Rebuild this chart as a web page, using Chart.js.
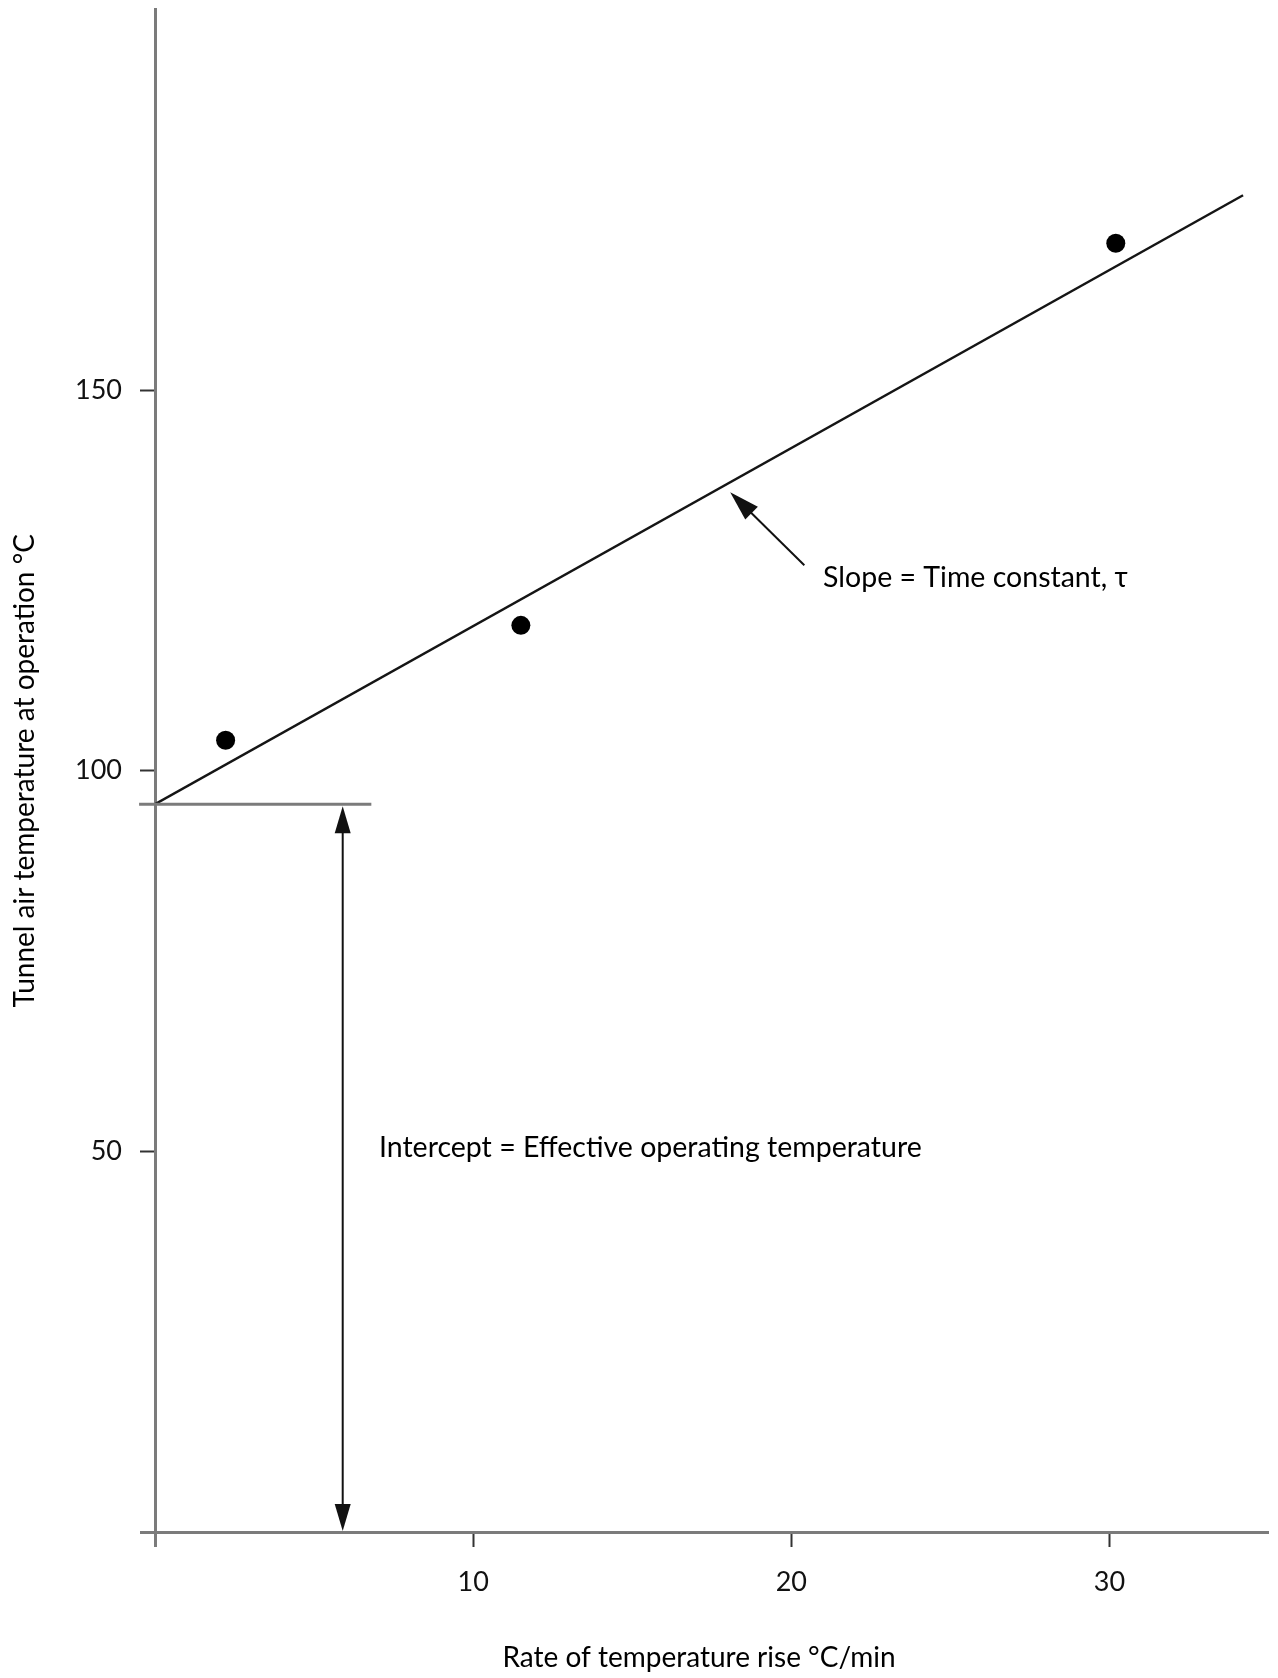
<!DOCTYPE html>
<html>
<head>
<meta charset="utf-8">
<script src="https://cdn.jsdelivr.net/npm/chart.js@4.4.1/dist/chart.umd.min.js"></script>
<style>
  html, body { margin: 0; padding: 0; background: #fff; }
  canvas { display: block; }
</style>
</head>
<body>
<canvas id="chart" width="1278" height="1678"></canvas>
<script>
// measured points (rate °C/min, tunnel air temp °C)
var rateValues = [2.22, 11.5, 30.2];
var tempValues = [104.0, 119.1, 169.3];
// fitted line ends
var fitX = [0, 34.2];
var fitY = [95.6, 175.6];
// tick labels
var xTickLabels = ['10', '20', '30'];
var yTickLabels = ['50', '100', '150'];

// annotation anchors in data units
var interceptLine = { x1: -0.5, x2: 6.8, y: 95.6 };
var interceptArrowX = 5.9;
var slopeArrow = { x1: 20.41, y1: 127.0, x2: 18.08, y2: 136.6 };
var slopeText = { x: 21.0, y: 124.2, text: 'Slope = Time constant, \u03c4' };
var interceptText = { x: 7.04, y: 49.2, text: 'Intercept = Effective operating temperature' };
var xTitle = { x: 17.1, text: 'Rate of temperature rise \u00b0C/min' };

var FONT = 'Lato';
var axisGray = '#7b7b7b';

function arrowHead(ctx, x1, y1, x2, y2, len, half) {
  var a = Math.atan2(y2 - y1, x2 - x1);
  ctx.beginPath();
  ctx.moveTo(x2, y2);
  ctx.lineTo(x2 - len * Math.cos(a) + half * Math.sin(a), y2 - len * Math.sin(a) - half * Math.cos(a));
  ctx.lineTo(x2 - len * Math.cos(a) - half * Math.sin(a), y2 - len * Math.sin(a) + half * Math.cos(a));
  ctx.closePath();
  ctx.fill();
}

const notes = {
  id: 'notes',
  afterDatasetsDraw(chart) {
    const ctx = chart.ctx, xs = chart.scales.x, ys = chart.scales.y;
    const px = v => xs.getPixelForValue(v), py = v => ys.getPixelForValue(v);
    ctx.save();
    // intercept level line
    ctx.strokeStyle = axisGray;
    ctx.lineWidth = 3;
    ctx.beginPath();
    ctx.moveTo(px(interceptLine.x1), py(interceptLine.y));
    ctx.lineTo(px(interceptLine.x2), py(interceptLine.y));
    ctx.stroke();

    // double arrow
    ctx.strokeStyle = '#111';
    ctx.fillStyle = '#111';
    ctx.lineWidth = 2;
    const ax = px(interceptArrowX), top = py(interceptLine.y) + 2, bot = py(0) - 1;
    ctx.beginPath();
    ctx.moveTo(ax, top + 20);
    ctx.lineTo(ax, bot - 20);
    ctx.stroke();
    arrowHead(ctx, ax, bot, ax, top, 27, 8);
    arrowHead(ctx, ax, top, ax, bot, 27, 8);

    // slope arrow
    const sx1 = px(slopeArrow.x1), sy1 = py(slopeArrow.y1), sx2 = px(slopeArrow.x2), sy2 = py(slopeArrow.y2);
    ctx.beginPath();
    ctx.moveTo(sx1, sy1);
    ctx.lineTo(sx2 + (sx1 - sx2) * 0.2, sy2 + (sy1 - sy2) * 0.2);
    ctx.stroke();
    arrowHead(ctx, sx1, sy1, sx2, sy2, 30, 9);

    // labels
    ctx.fillStyle = '#000';
    ctx.font = '28.5px ' + FONT;
    ctx.textBaseline = 'alphabetic';
    ctx.textAlign = 'left';
    ctx.fillText(slopeText.text, px(slopeText.x), py(slopeText.y));
    ctx.fillText(interceptText.text, px(interceptText.x), py(interceptText.y));

    // x axis title (sits a little left of the plot centre in the original)
    ctx.font = '28px ' + FONT;
    ctx.textAlign = 'center';
    ctx.textBaseline = 'middle';
    ctx.fillText(xTitle.text, px(xTitle.x), chart.height - 20);
    ctx.restore();
  }
};

function tickStyle(ctx, special) {
  return ctx.tick && ctx.tick.value === 0 ? special : '#333';
}

function noPad(s) {
  s.paddingTop = 0;
  s.paddingBottom = 0;
  s.paddingLeft = 0;
  s.paddingRight = 0;
}

const config = {
  type: 'scatter',
  data: {
    datasets: [
      {
        label: 'Measured',
        data: rateValues.map((x, i) => ({ x: x, y: tempValues[i] })),
        pointRadius: 9.5,
        pointBackgroundColor: '#000',
        pointBorderWidth: 0,
        showLine: false
      },
      {
        label: 'Fit',
        data: fitX.map((x, i) => ({ x: x, y: fitY[i] })),
        showLine: true,
        borderColor: '#151515',
        borderWidth: 2.5,
        pointRadius: 0
      }
    ]
  },
  options: {
    responsive: false,
    animation: false,
    layout: { padding: { top: 5, right: 5, left: 0, bottom: 0 } },
    plugins: { legend: { display: false }, tooltip: { enabled: false } },
    scales: {
      x: {
        type: 'linear',
        min: 0,
        max: 35,
        afterFit(s) { s.height = 146; noPad(s); },
        border: { display: true, color: axisGray, width: 3 },
        grid: {
          drawOnChartArea: false,
          drawTicks: true,
          tickLength: 15,
          tickColor: c => tickStyle(c, axisGray),
          tickWidth: c => (c.tick && c.tick.value === 0 ? 3 : 2)
        },
        ticks: {
          stepSize: 10,
          includeBounds: false,
          padding: 19,
          color: '#111',
          font: { family: FONT, size: 27 },
          callback: v => (xTickLabels.indexOf(String(v)) >= 0 ? String(v) : '')
        },
        title: { display: false }
      },
      y: {
        type: 'linear',
        min: 0,
        max: 200,
        afterFit(s) { s.width = 155; noPad(s); },
        border: { display: true, color: axisGray, width: 3 },
        grid: {
          drawOnChartArea: false,
          drawTicks: true,
          tickLength: 15,
          tickColor: c => (c.tick && c.tick.value === 200 ? 'rgba(0,0,0,0)' : tickStyle(c, axisGray)),
          tickWidth: c => (c.tick && c.tick.value === 0 ? 3 : 2)
        },
        ticks: {
          stepSize: 50,
          padding: 18,
          color: '#111',
          font: { family: FONT, size: 27 },
          callback: v => (yTickLabels.indexOf(String(v)) >= 0 ? String(v) : '')
        },
        title: {
          display: true,
          text: 'Tunnel air temperature at operation \u00b0C',
          color: '#000',
          font: { family: FONT, size: 28 },
          padding: { top: 8, bottom: 0 }
        }
      }
    }
  },
  plugins: [notes]
};

window.myChart = new Chart(document.getElementById('chart'), config);
</script>
</body>
</html>
